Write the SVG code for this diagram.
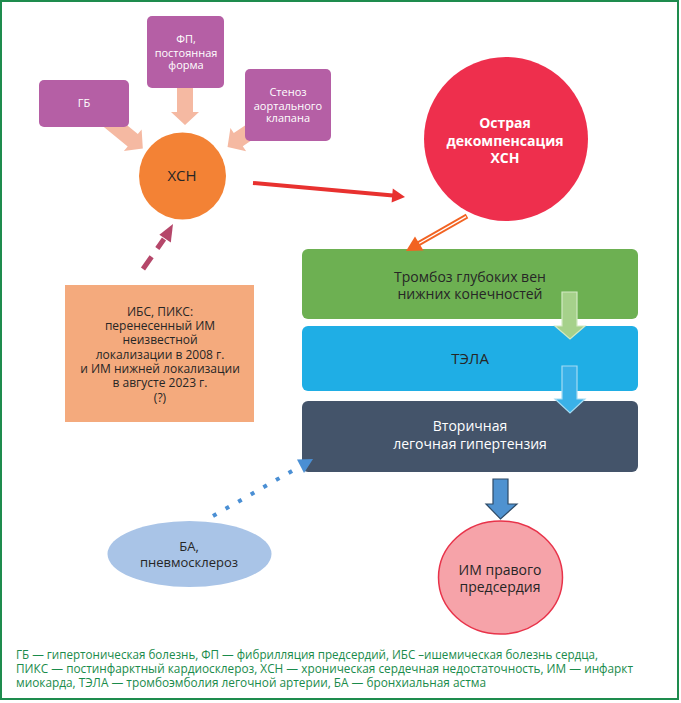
<svg xmlns="http://www.w3.org/2000/svg" width="681" height="703" viewBox="0 0 681 703">
<style>
text{font-family:"Open Sans","Noto Sans","DejaVu Sans",sans-serif;text-anchor:middle}
.w{fill:#ffffff}
.d{fill:#262626}
.purple{fill:#B55FA5}
.salmon{fill:#F5B9A2}
.foot{fill:#1A8B4B;font-size:12.5px;text-anchor:start}
</style>
<rect x="1" y="1" width="677" height="698" fill="#ffffff" stroke="#1E8C4E" stroke-width="2"/>

<g id="connectors">
  <polygon class="salmon" transform="translate(185,86) rotate(90)" points="0,-8 26,-8 26,-14 39,0 26,14 26,8 0,8"/>
  <polygon class="salmon" transform="translate(108,120) rotate(39.3)" points="0,-8 32,-8 32,-14 45,0 32,14 32,8 0,8"/>
  <polygon class="salmon" transform="translate(254,129) rotate(145.8)" points="0,-8 19,-8 19,-14 32,0 19,14 19,8 0,8"/>
  <line x1="253" y1="183" x2="393" y2="195.5" stroke="#E8312F" stroke-width="4"/>
  <polygon fill="#E8312F" points="405,197 391.6,202.4 392.8,188.4"/>
  <line x1="467" y1="216" x2="418" y2="244" stroke="#F26322" stroke-width="5"/>
  <line x1="466" y1="216.6" x2="418" y2="244" stroke="#ffffff" stroke-width="1.4"/>
  <line x1="143" y1="269" x2="164" y2="239" stroke="#B5476A" stroke-width="5" stroke-dasharray="15 10"/>
  <polygon fill="#B5476A" points="173,224 170.8,242.6 159.4,234.8"/>
</g>

<g id="n-gb"><rect x="39" y="80" width="90" height="47" rx="5" class="purple"/><text x="84" y="107" class="w" font-size="11">ГБ</text></g>
<g id="n-fp"><rect x="147" y="16" width="77" height="72" rx="5" class="purple"/>
<text class="w" font-size="11"><tspan x="186" y="43">ФП,</tspan><tspan x="186" y="57">постоянная</tspan><tspan x="186" y="69">форма</tspan></text></g>
<g id="n-sten"><rect x="245" y="69" width="86" height="72" rx="5" class="purple"/>
<text class="w" font-size="11"><tspan x="288" y="96">Стеноз</tspan><tspan x="288" y="110">аортального</tspan><tspan x="288" y="122">клапана</tspan></text></g>
<g id="n-hsn"><circle cx="182.5" cy="176" r="43.5" fill="#F38235"/><text x="182" y="181" class="d" font-size="15">ХСН</text></g>

<g id="n-ostr"><circle cx="506" cy="139" r="82" fill="#EE2F4D"/>
<text class="w" font-size="14" font-weight="bold"><tspan x="505" y="128">Острая</tspan><tspan x="505" y="146">декомпенсация</tspan><tspan x="505" y="163">ХСН</tspan></text></g>

<g id="n-ibs"><rect x="65" y="285" width="189" height="137" fill="#F4AA7D"/>
<text class="d" font-size="12"><tspan x="160" y="315.5">ИБС, ПИКС:</tspan><tspan x="160" y="330">перенесенный ИМ</tspan><tspan x="160" y="344">неизвестной</tspan><tspan x="160" y="358.5">локализации в 2008 г.</tspan><tspan x="160" y="373">и ИМ нижней локализации</tspan><tspan x="160" y="387">в августе 2023 г.</tspan><tspan x="160" y="401.5">(?)</tspan></text></g>

<g id="n-tgv"><rect x="302" y="249" width="336" height="70" rx="6" fill="#6DB052"/>
<text class="d" font-size="14"><tspan x="470" y="282">Тромбоз глубоких вен</tspan><tspan x="470" y="299">нижних конечностей</tspan></text></g>
<g id="n-tela"><rect x="302" y="326" width="336" height="65" rx="6" fill="#1FAEE5"/>
<text x="470" y="364" class="d" font-size="15">ТЭЛА</text></g>
<g id="n-lg"><rect x="302" y="401" width="336" height="71" rx="6" fill="#44546A"/>
<text class="w" font-size="14"><tspan x="470" y="431">Вторичная</tspan><tspan x="470" y="449">легочная гипертензия</tspan></text></g>

<g id="connectors2">
  <polygon fill="#F26322" points="406,251 415,236.5 423.5,250.5"/>
  <polygon fill="#A6D18B" stroke="#D3E9C4" stroke-width="1.2" points="562,292 577,292 577,326 585,326 570,339 555,326 562,326"/>
  <polygon fill="#3AB1E8" stroke="#A3DBF4" stroke-width="1.2" points="562,366 577,366 577,399 585,399 570,413 555,399 562,399"/>
  <polygon fill="#4F92D0" stroke="#2E4A66" stroke-width="1.2" points="493,479 508,479 508,504 517,504 500.5,519 486,504 493,504"/>
  <line x1="213" y1="516" x2="299" y2="467" stroke="#4A8FD4" stroke-width="4" stroke-dasharray="4 10.5"/>
  <polygon fill="#4A8FD4" points="313,459 297,459.5 304,473"/>
</g>

<g id="n-im"><ellipse cx="500.5" cy="577.5" rx="62" ry="56.5" fill="#F6A3A9" stroke="#E8334A" stroke-width="1.5"/>
<text class="d" font-size="14"><tspan x="500" y="575">ИМ правого</tspan><tspan x="500" y="592">предсердия</tspan></text></g>
<g id="n-ba"><ellipse cx="189.5" cy="554" rx="82" ry="33" fill="#A9C4E7"/>
<text class="d" font-size="13"><tspan x="189" y="551">БА,</tspan><tspan x="189" y="566.5">пневмосклероз</tspan></text></g>

<g id="legend">
<text class="foot" x="16" y="659" textLength="582" lengthAdjust="spacingAndGlyphs">ГБ — гипертоническая болезнь, ФП — фибрилляция предсердий, ИБС –ишемическая болезнь сердца,</text>
<text class="foot" x="16" y="673" textLength="617" lengthAdjust="spacingAndGlyphs">ПИКС — постинфарктный кардиосклероз, ХСН — хроническая сердечная недостаточность, ИМ — инфаркт</text>
<text class="foot" x="16" y="687" textLength="470" lengthAdjust="spacingAndGlyphs">миокарда, ТЭЛА — тромбоэмболия легочной артерии, БА — бронхиальная астма</text>
</g>
</svg>
